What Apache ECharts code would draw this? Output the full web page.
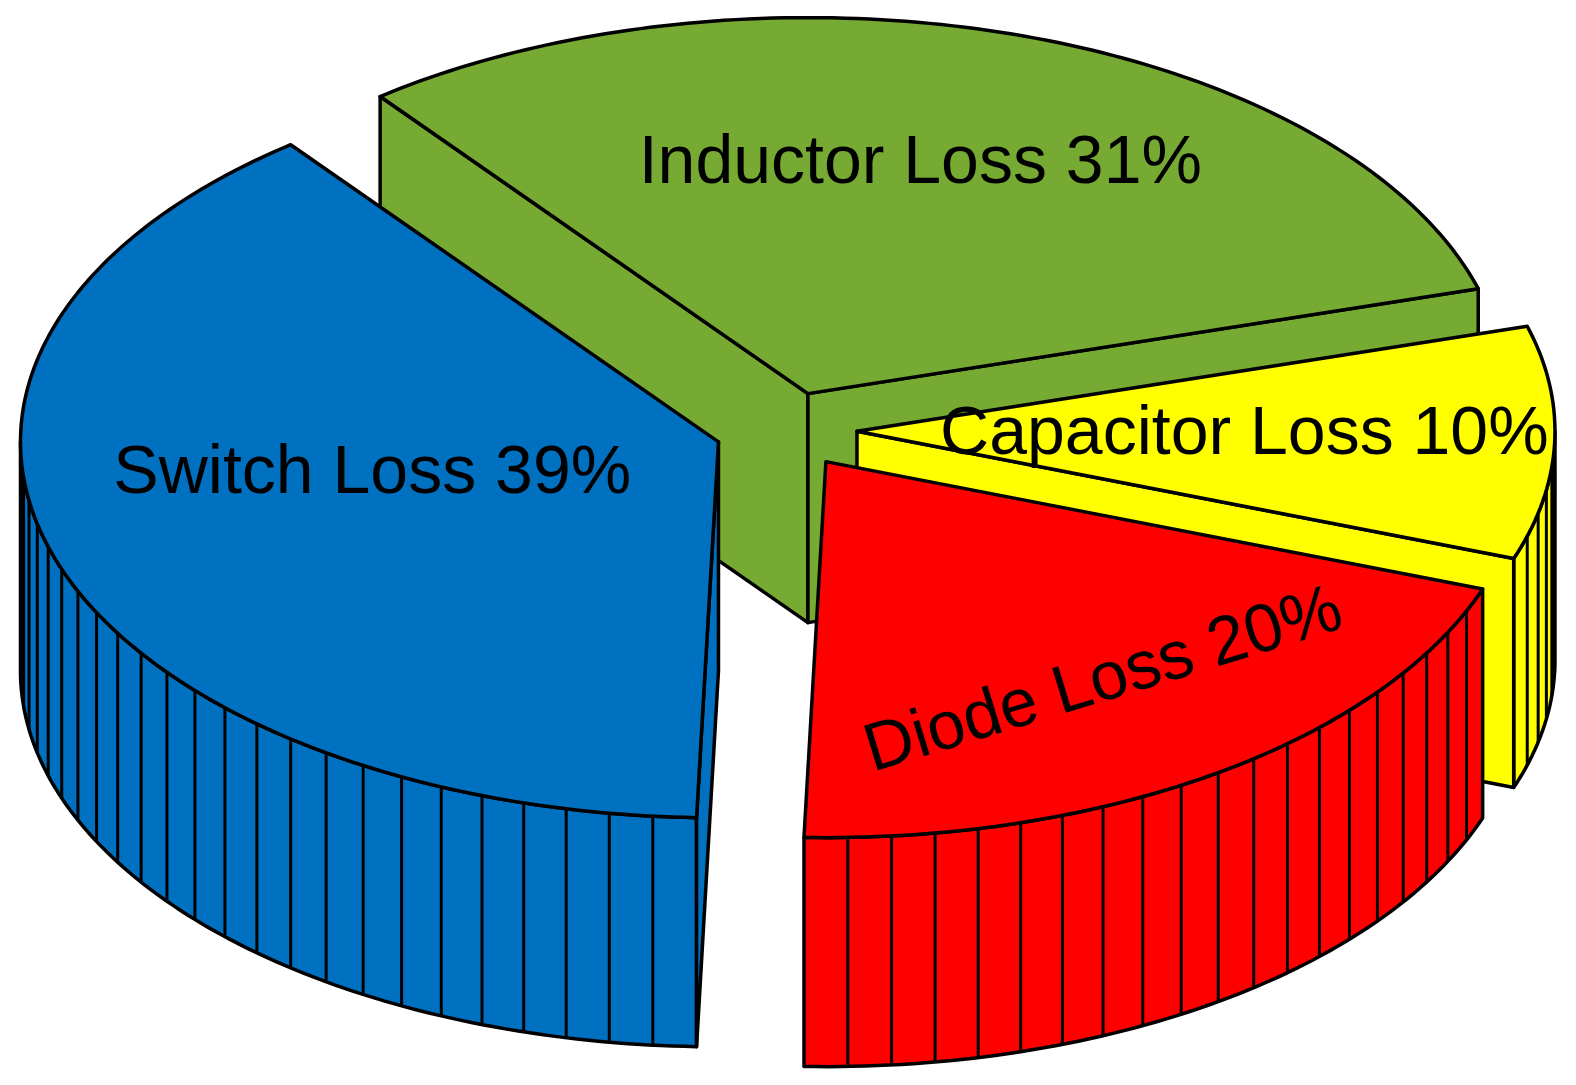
<!DOCTYPE html>
<html lang="en">
<head>
<meta charset="UTF-8">
<title>Loss breakdown</title>
<script src="https://cdn.jsdelivr.net/npm/echarts@6/dist/echarts.min.js"></script>
<style>
  html, body { margin: 0; padding: 0; background: #fff; }
  #chart { width: 1576px; height: 1085px; }
</style>
</head>
<body>
<div id="chart"></div>
<script>
const categories = ['Switch Loss', 'Inductor Loss', 'Capacitor Loss', 'Diode Loss'];
const shares = [39, 31, 10, 20];
const sliceColors = ['#0070c0', '#77aa32', '#ffff00', '#ff0000'];

// where each label sits, relative to its slice centre, in units of the ellipse radii
const labelAnchor = [[-0.496, 0.085], [0.161, -0.611], [0.555, 0.01], [0.398, 0.585]];
const labelTilt = [0, 0, 0, 17];

const DEG = Math.PI / 180;
const startAngle = -91.8;   // slices run clockwise from here
const stripeStep = 3.6;     // facet lines on the side wall
const pie = { cx: 786, cy: 430, rx: 698, ry: 376, depth: 229, explode: 71 };
const edge = { stroke: '#000', lineWidth: 3.5, lineJoin: 'round' };

const total = shares.reduce((s, v) => s + v, 0);

function sliceAngles(i) {
    let before = 0;
    for (let k = 0; k < i; k++) before += shares[k];
    const t0 = startAngle - before / total * 360;
    const t1 = t0 - shares[i] / total * 360;
    return [t0, t1];
}

function midSin(i) {
    const [t0, t1] = sliceAngles(i);
    return Math.sin((t0 + t1) / 2 * DEG);
}

function renderSlice(params, api) {
    const i = params.dataIndex;
    const [t0, t1] = sliceAngles(i);
    const mid = (t0 + t1) / 2 * DEG;
    const ox = pie.cx + pie.explode * Math.cos(mid);
    const oy = pie.cy - pie.explode * pie.ry / pie.rx * Math.sin(mid);
    const color = api.visual('color');

    const rim = (deg, drop) => [ox + pie.rx * Math.cos(deg * DEG), oy - pie.ry * Math.sin(deg * DEG) + drop];
    const arc = (from, to, drop) => {
        const pts = [];
        const n = Math.max(2, Math.ceil(Math.abs(to - from)));
        for (let k = 0; k <= n; k++) pts.push(rim(from + (to - from) * k / n, drop));
        return pts;
    };

    // back-to-front order
    const me = midSin(i);
    let rank = 0;
    shares.forEach((v, k) => { if (midSin(k) > me) rank++; });
    const base = rank * 10;
    const children = [];

    // curved side wall, only the part facing us
    for (let k = -2; k <= 1; k++) {
        const lo = Math.max(t1, -180 + 360 * k);
        const hi = Math.min(t0, 360 * k);
        if (hi - lo <= 0.01) continue;
        const top = arc(hi, lo, 0);
        const bottom = arc(lo, hi, pie.depth);
        children.push({
            type: 'polygon', z2: base + 1,
            shape: { points: top.concat(bottom) },
            style: Object.assign({ fill: color }, edge)
        });
        for (let s = t0 - stripeStep; s > t1; s -= stripeStep) {
            if (s <= lo + 0.3 || s >= hi - 0.3) continue;
            const p = rim(s, 0), q = rim(s, pie.depth);
            children.push({
                type: 'line', z2: base + 2,
                shape: { x1: p[0], y1: p[1], x2: q[0], y2: q[1] },
                style: { stroke: '#000', lineWidth: 3 }
            });
        }
    }

    // flat cut faces
    const cutFace = (deg) => {
        const p = rim(deg, 0), q = rim(deg, pie.depth);
        return {
            type: 'polygon', z2: base + 1,
            shape: { points: [[ox, oy], p, q, [ox, oy + pie.depth]] },
            style: Object.assign({ fill: color }, edge)
        };
    };
    if (Math.cos(t0 * DEG) < 0) children.push(cutFace(t0));
    if (Math.cos(t1 * DEG) > 0) children.push(cutFace(t1));

    // top face
    children.push({
        type: 'polygon', z2: base + 5,
        shape: { points: [[ox, oy]].concat(arc(t0, t1, 0)) },
        style: Object.assign({ fill: color }, edge)
    });

    const [u, v] = labelAnchor[i];
    children.push({
        type: 'text', z2: 100,
        x: ox + u * pie.rx, y: oy + v * pie.ry,
        rotation: labelTilt[i] * DEG,
        style: {
            text: categories[i] + ' ' + api.value(0) + '%',
            fill: '#000',
            font: '68px "Liberation Sans", Arial, sans-serif',
            align: 'center', verticalAlign: 'middle',
            textAlign: 'center', textVerticalAlign: 'middle'
        }
    });

    return { type: 'group', children: children };
}

const chart = echarts.init(document.getElementById('chart'));
chart.setOption({
    animation: false,
    color: sliceColors,
    series: [{
        type: 'custom',
        coordinateSystem: 'none',
        colorBy: 'data',
        renderItem: renderSlice,
        data: shares.map((v, i) => ({ name: categories[i], value: v, itemStyle: { color: sliceColors[i] } }))
    }]
});
</script>
</body>
</html>
